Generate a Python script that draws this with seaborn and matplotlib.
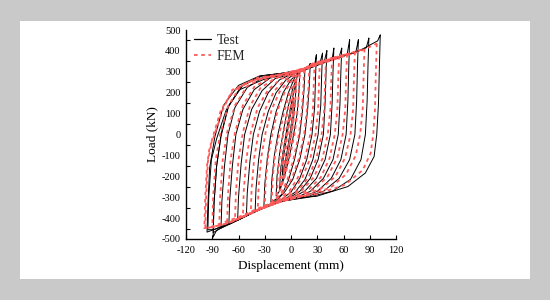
import matplotlib
matplotlib.use("Agg")
import matplotlib.pyplot as plt
from matplotlib.lines import Line2D
from matplotlib.patches import Rectangle
import seaborn as sns
import pandas as pd

# hysteresis loops: (displacement mm, load kN) per cycle
test_loops = [
    [(3, 175), (2, 100), (-1, 10), (-4, -70), (-7, -140), (-10, -195), (-9, -120), (-6, -40), (-3, 40), (0, 110), (3, 175)],
    [(6, 262), (5, 170), (3, 80), (0, -10), (-4, -110), (-8, -190), (-13, -265), (-12, -170), (-9, -80), (-5, 20), (-1, 120), (3, 200), (6, 262)],
    [(10, 292), (9, 200), (7, 100), (3, 0), (-2, -110), (-8, -210), (-13, -270), (-17, -295), (-16, -200), (-13, -90), (-9, 10), (-4, 120), (2, 220), (7, 275), (10, 292)],
    [(16, 318), (15, 220), (13, 110), (10, 0), (4, -120), (-3, -220), (-10, -285), (-18, -312), (-23, -322), (-22, -220), (-19, -100), (-15, 0), (-9, 110), (-3, 200), (4, 270), (10, 300), (14, 308), (16, 318)],
    [(22, 340), (21, 240), (19, 120), (16, 0), (10, -120), (2, -215), (-8, -280), (-18, -320), (-27, -340), (-31, -348), (-30, -240), (-27, -110), (-23, 0), (-17, 110), (-9, 200), (0, 262), (10, 300), (18, 318), (20, 322), (22, 340)],
    [(29, 381), (28, 270), (27, 130), (24, 0), (18, -120), (10, -210), (0, -275), (-12, -315), (-25, -340), (-36, -360), (-41, -368), (-40, -260), (-37, -120), (-33, 0), (-26, 110), (-17, 200), (-6, 260), (6, 295), (18, 318), (27, 333), (29, 381)],
    [(36, 389), (35, 280), (34, 140), (31, 0), (25, -120), (16, -215), (5, -275), (-8, -312), (-22, -335), (-35, -356), (-46, -380), (-51, -390), (-50, -280), (-47, -130), (-43, 0), (-36, 110), (-26, 200), (-13, 262), (2, 292), (18, 318), (33, 340), (36, 389)],
    [(41, 401), (40, 290), (39, 150), (37, 0), (31, -120), (22, -210), (10, -272), (-4, -308), (-20, -330), (-36, -358), (-50, -388), (-61, -410), (-60, -300), (-57, -140), (-53, 0), (-45, 120), (-33, 210), (-18, 268), (0, 288), (20, 318), (38, 348), (41, 401)],
    [(49, 413), (48, 300), (47, 150), (45, 0), (39, -120), (29, -210), (16, -270), (0, -305), (-20, -330), (-40, -366), (-58, -405), (-71, -430), (-70, -310), (-67, -150), (-63, 0), (-55, 120), (-42, 215), (-24, 270), (-4, 290), (18, 315), (38, 350), (47, 360), (49, 413)],
    [(58, 413), (57, 300), (56, 150), (54, 0), (48, -120), (37, -210), (22, -272), (4, -305), (-20, -330), (-45, -376), (-68, -425), (-80, -448), (-79, -320), (-76, -150), (-72, 0), (-64, 130), (-50, 225), (-30, 278), (-8, 292), (15, 310), (38, 350), (55, 370), (58, 413)],
    [(67, 453), (66, 320), (65, 160), (63, 0), (57, -120), (46, -210), (30, -272), (10, -302), (-15, -322), (-45, -376), (-73, -432), (-85, -458), (-89, -491), (-88, -330), (-85, -150), (-80, 0), (-71, 140), (-55, 235), (-33, 280), (-10, 292), (15, 310), (40, 352), (64, 380), (67, 453)],
    [(77, 453), (76, 330), (75, 160), (73, 0), (67, -120), (55, -210), (37, -272), (14, -302), (-15, -322), (-45, -376), (-75, -435), (-89, -470), (-88, -330), (-85, -150), (-80, -10), (-72, 130), (-57, 230), (-35, 280), (-12, 292), (15, 310), (45, 358), (74, 392), (77, 453)],
    [(89, 461), (88, 330), (87, 160), (85, 0), (80, -120), (68, -215), (48, -270), (20, -300), (-15, -322), (-45, -376), (-75, -435), (-96, -467), (-95, -340), (-93, -160), (-87, -10), (-77, 140), (-60, 235), (-36, 280), (-12, 292), (15, 310), (45, 358), (75, 395), (86, 415), (89, 461)],
    [(102, 476), (101, 320), (100, 150), (98, 0), (95, -105), (85, -184), (65, -249), (29, -296), (0, -305), (-30, -350), (-60, -405), (-88, -455), (-95, -456), (-94, -300), (-91, -121), (-85, -20), (-74, 118), (-59, 214), (-32, 262), (-13, 286), (0, 284), (20, 315), (50, 362), (80, 405), (99, 448), (102, 476)],
]

fem_loops = [
    [(3, 170), (2, 90), (0, 10), (-3, -70), (-6, -140), (-8, -190), (-7, -110), (-5, -30), (-2, 50), (1, 120), (3, 170)],
    [(6, 250), (5, 160), (3, 70), (0, -20), (-4, -110), (-8, -190), (-12, -255), (-11, -160), (-8, -70), (-4, 30), (0, 130), (3, 200), (6, 250)],
    [(10, 285), (9, 190), (7, 90), (4, 0), (-1, -100), (-7, -200), (-12, -262), (-16, -290), (-15, -190), (-12, -80), (-8, 20), (-3, 130), (3, 225), (7, 270), (10, 285)],
    [(15, 310), (14, 210), (12, 100), (9, 0), (3, -115), (-4, -215), (-11, -280), (-18, -310), (-22, -318), (-21, -210), (-18, -90), (-13, 10), (-7, 120), (-1, 210), (6, 272), (11, 298), (15, 310)],
    [(21, 330), (20, 230), (18, 110), (15, 0), (9, -115), (1, -210), (-9, -278), (-19, -318), (-27, -336), (-30, -342), (-29, -230), (-26, -100), (-21, 10), (-15, 120), (-7, 205), (2, 265), (12, 305), (21, 330)],
    [(27, 345), (26, 240), (25, 110), (22, 0), (16, -115), (8, -205), (-2, -272), (-14, -312), (-27, -340), (-38, -360), (-37, -250), (-34, -110), (-29, 10), (-22, 120), (-13, 205), (-2, 262), (10, 300), (20, 328), (27, 345)],
    [(33, 352), (32, 250), (31, 115), (28, 0), (22, -115), (13, -205), (2, -270), (-11, -310), (-26, -338), (-38, -360), (-46, -378), (-45, -260), (-42, -110), (-37, 10), (-29, 125), (-19, 210), (-6, 265), (8, 298), (22, 326), (33, 352)],
    [(40, 360), (39, 255), (38, 120), (35, 0), (29, -115), (20, -205), (8, -268), (-6, -305), (-22, -332), (-38, -360), (-50, -385), (-55, -395), (-54, -270), (-51, -115), (-46, 10), (-38, 130), (-26, 215), (-12, 265), (4, 292), (20, 322), (40, 360)],
    [(47, 368), (46, 260), (45, 120), (42, 0), (36, -115), (26, -205), (13, -265), (-2, -300), (-20, -330), (-40, -365), (-56, -395), (-64, -410), (-63, -280), (-60, -120), (-55, 10), (-47, 135), (-35, 222), (-18, 270), (0, 290), (22, 325), (47, 368)],
    [(55, 376), (54, 265), (53, 120), (50, 0), (44, -115), (34, -205), (20, -265), (3, -300), (-18, -328), (-40, -365), (-60, -402), (-73, -425), (-72, -290), (-69, -120), (-64, 10), (-55, 140), (-42, 228), (-24, 272), (-4, 288), (20, 322), (45, 362), (55, 376)],
    [(64, 386), (63, 270), (62, 120), (59, 0), (53, -110), (42, -200), (27, -262), (8, -298), (-15, -325), (-40, -365), (-65, -412), (-82, -438), (-81, -300), (-78, -120), (-73, 10), (-64, 140), (-50, 232), (-30, 275), (-8, 288), (20, 322), (50, 368), (64, 386)],
    [(73, 396), (72, 275), (71, 120), (68, 0), (62, -110), (51, -200), (34, -260), (12, -296), (-12, -322), (-40, -365), (-68, -418), (-90, -445), (-89, -300), (-86, -120), (-81, 0), (-72, 135), (-58, 230), (-38, 272), (-12, 288), (18, 320), (50, 368), (73, 396)],
    [(84, 410), (83, 285), (82, 125), (79, 0), (74, -100), (63, -190), (45, -255), (18, -292), (-10, -318), (-40, -365), (-72, -425), (-98, -450), (-97, -300), (-95, -130), (-90, -20), (-80, 118), (-66, 210), (-45, 258), (-14, 286), (15, 315), (50, 366), (80, 405), (84, 410)],
    [(98, 435), (97, 300), (96, 120), (94, 0), (91, -90), (82, -170), (62, -240), (30, -285), (0, -300), (-30, -340), (-60, -395), (-90, -440), (-99, -448), (-98, -300), (-96, -150), (-93, -60), (-89, -20), (-78, 118), (-67, 214), (-44, 258), (-13, 286), (0, 288), (20, 318), (50, 360), (80, 400), (98, 435)],
]

x_ticks = [-120, -90, -60, -30, 0, 30, 60, 90, 120]
y_ticks = [-500, -400, -300, -200, -100, 0, 100, 200, 300, 400, 500]


def to_frame(loops):
    rows = []
    for i, loop in enumerate(loops):
        for j, (d, p) in enumerate(loop):
            rows.append({"loop": i, "step": j, "disp": d, "load": p})
    return pd.DataFrame(rows)


df_test = to_frame(test_loops)
df_fem = to_frame(fem_loops)

sns.set_theme(style="white")
plt.rcParams["font.family"] = ["Liberation Serif", "DejaVu Serif"]
plt.rcParams["axes.unicode_minus"] = False

fig = plt.figure(figsize=(5.5, 3), dpi=100, facecolor="#c9c9c9")
fig.patches.append(Rectangle((20 / 550, 21 / 300), 510 / 550, 258 / 300,
                             transform=fig.transFigure, facecolor="white",
                             edgecolor="none", zorder=-10))
ax = fig.add_axes([186 / 550, 61 / 300, 210 / 550, 209 / 300])
ax.set_zorder(5)
ax.patch.set_alpha(0)

red = "#ff5a5a"
dash = (0, (2, 2))
sns.lineplot(data=df_test, x="disp", y="load", units="loop", estimator=None,
             sort=False, color="black", lw=0.7, ax=ax)
sns.lineplot(data=df_fem, x="disp", y="load", units="loop", estimator=None,
             sort=False, color=red, lw=1.3, linestyle=dash, ax=ax)

ax.set_xlim(-120, 120)
ax.set_ylim(-500, 500)
ax.set_xticks(x_ticks)
ax.set_yticks(y_ticks)
# tick marks on the y axis sit half way between the labels
ax.set_yticks([v + 50 for v in y_ticks[:-1]], minor=True)
ax.tick_params(axis="y", which="major", length=0, pad=4, labelsize=7.5, colors="black")
ax.tick_params(axis="y", which="minor", length=3, direction="in", width=0.8, left=True, color="black")
ax.tick_params(axis="x", which="major", length=3, direction="in", width=0.8, pad=5,
               labelsize=7.5, colors="black", bottom=True)

for s in ["top", "right"]:
    ax.spines[s].set_visible(False)
for s in ["left", "bottom"]:
    ax.spines[s].set_color("black")
    ax.spines[s].set_linewidth(1.0)

ax.set_xlabel("Displacement (mm)", fontsize=9.5, labelpad=4, color="black")
ax.set_ylabel("Load (kN)", fontsize=9.5, labelpad=2, color="black")

handles = [Line2D([], [], color="black", lw=0.9),
           Line2D([], [], color=red, lw=1.3, linestyle=dash)]
ax.legend(handles, ["Test", "FEM"], loc="upper left", frameon=False, fontsize=10,
          handlelength=1.2, handletextpad=0.4, labelspacing=0.2,
          borderaxespad=0.0, borderpad=0.3, bbox_to_anchor=(0.02, 1.0))

fig.savefig("out.png", dpi=100, facecolor=fig.get_facecolor())
